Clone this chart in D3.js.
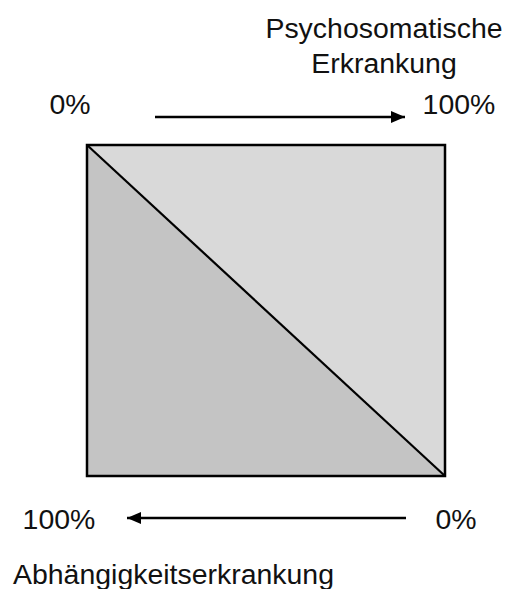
<!DOCTYPE html>
<html lang="de">
<head>
<meta charset="utf-8">
<title>Psychosomatische Erkrankung / Abhängigkeitserkrankung</title>
<script src="https://cdn.jsdelivr.net/npm/d3@7"></script>
<style>
  body { margin: 0; background: #fff; }
  text { font-family: "Liberation Sans", Arial, sans-serif; font-size: 27.5px; fill: #111; }
</style>
</head>
<body>
<div id="chart"></div>
<script>
// Anteile in Prozent
var ticks = [0, 100];
var tickLabels = ['0%', '100%'];
var topTitle = ['Psychosomatische', 'Erkrankung'];
var bottomTitle = ['Abhängigkeitserkrankung'];
// Eckpunkte der beiden Dreiecke (x = psychosomatisch, y = von oben)
var upperTri = [[0, 0], [100, 0], [100, 100]];
var lowerTri = [[0, 0], [0, 100], [100, 100]];

var width = 507, height = 589;
var stretch = 1.035;

var svg = d3.select('#chart').append('svg')
    .attr('width', width)
    .attr('height', height);

var x = d3.scaleLinear().domain([0, 100]).range([87, 445]);
var y = d3.scaleLinear().domain([0, 100]).range([145, 476]);
// Pfeile
var xTopArrow = d3.scaleLinear().domain([0, 100]).range([155, 405]);
var xBotArrow = d3.scaleLinear().domain([0, 100]).range([406, 127]);

var defs = svg.append('defs');
defs.append('marker')
    .attr('id', 'head')
    .attr('viewBox', '0 0 14 12')
    .attr('refX', 14).attr('refY', 6)
    .attr('markerWidth', 14).attr('markerHeight', 12)
    .attr('markerUnits', 'userSpaceOnUse')
    .attr('orient', 'auto')
    .append('path')
    .attr('d', 'M0,0L14,6L0,12Z')
    .attr('fill', '#000');

var line = d3.line().x(function(d) { return x(d[0]); }).y(function(d) { return y(d[1]); });

svg.append('path')
    .attr('d', line(upperTri) + 'Z')
    .attr('fill', '#d9d9d9');
svg.append('path')
    .attr('d', line(lowerTri) + 'Z')
    .attr('fill', '#c4c4c4');

svg.append('line')
    .attr('x1', x(0)).attr('y1', y(0))
    .attr('x2', x(100)).attr('y2', y(100))
    .attr('stroke', '#000').attr('stroke-width', 2.2);

svg.append('rect')
    .attr('x', x(0)).attr('y', y(0))
    .attr('width', x(100) - x(0))
    .attr('height', y(100) - y(0))
    .attr('fill', 'none')
    .attr('stroke', '#000')
    .attr('stroke-width', 2.5);

function label(g, txt, cx, cy, anchor) {
    g.append('text')
        .attr('transform', 'translate(' + cx + ',' + cy + ') scale(' + stretch + ',1)')
        .attr('text-anchor', anchor || 'middle')
        .text(txt);
}

// oben
svg.append('line')
    .attr('x1', xTopArrow(0)).attr('y1', 117)
    .attr('x2', xTopArrow(100)).attr('y2', 117)
    .attr('stroke', '#000').attr('stroke-width', 2.6)
    .attr('marker-end', 'url(#head)');

var topPos = [70, 459];
ticks.forEach(function(t, i) { label(svg, tickLabels[i], topPos[i], 114); });
topTitle.forEach(function(t, i) { label(svg, t, 384, 38 + i * 35); });

// unten
svg.append('line')
    .attr('x1', xBotArrow(0)).attr('y1', 518)
    .attr('x2', xBotArrow(100)).attr('y2', 518)
    .attr('stroke', '#000').attr('stroke-width', 2.6)
    .attr('marker-end', 'url(#head)');

var botPos = [456, 59];
ticks.forEach(function(t, i) { label(svg, tickLabels[i], botPos[i], 529); });
bottomTitle.forEach(function(t) { label(svg, t, 13, 584, 'start'); });
</script>
</body>
</html>
